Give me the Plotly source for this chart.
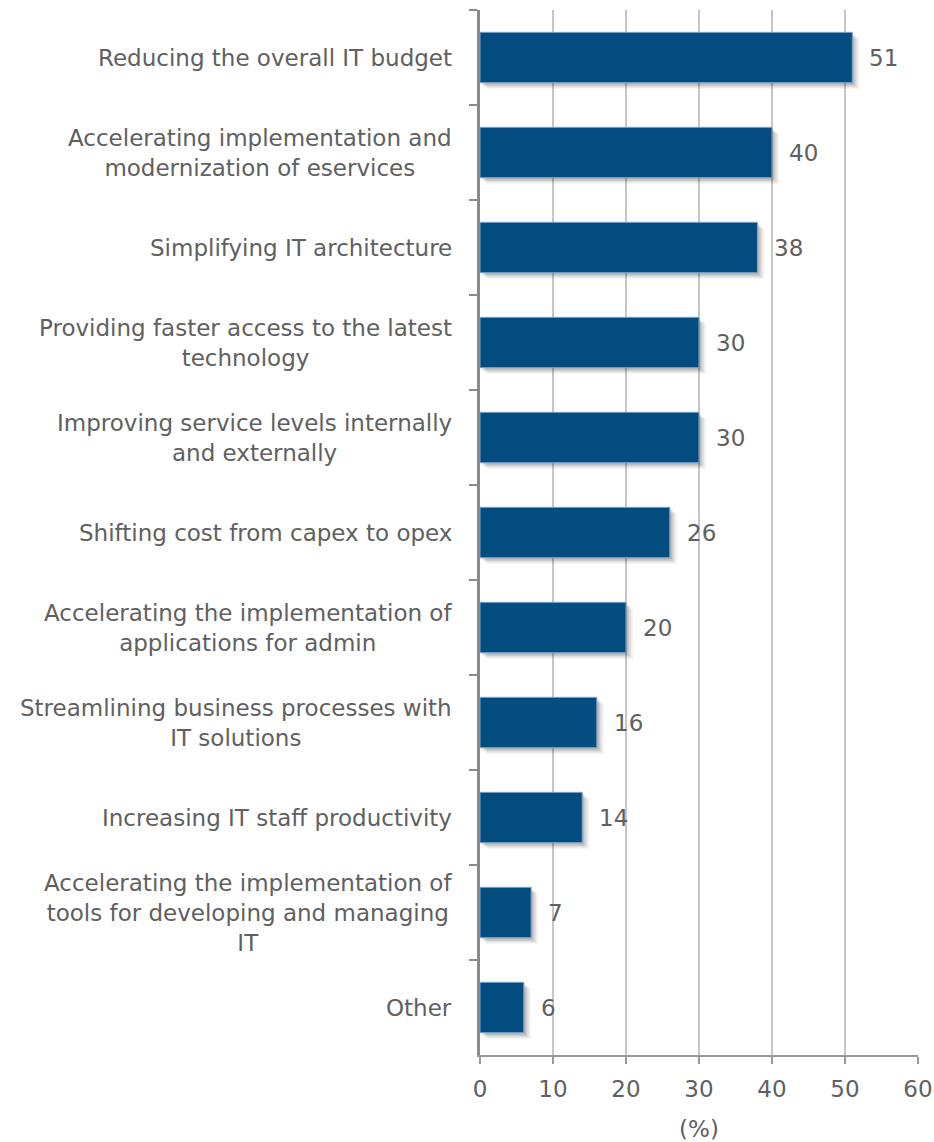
import plotly.graph_objects as go

# Survey answers, top to bottom
categories = [
    "Reducing the overall IT budget",
    "Accelerating implementation and<br>modernization of eservices",
    "Simplifying IT architecture",
    "Providing faster access to the latest<br>technology",
    "Improving service levels internally<br>and externally",
    "Shifting cost from capex to opex",
    "Accelerating the implementation of<br>applications for admin",
    "Streamlining business processes with<br>IT solutions",
    "Increasing IT staff productivity",
    "Accelerating the implementation of<br>tools for developing and managing<br>IT",
    "Other",
]
values = [51, 40, 38, 30, 30, 26, 20, 16, 14, 7, 6]
x_ticks = [0, 10, 20, 30, 40, 50, 60]

BAR = "#024c80"
TEXT = "#606060"
FONT = "DejaVu Sans"
FS = 23
BAR_W = 0.53

fig = go.Figure()

# soft drop shadow behind each bar (several translucent layers)
for dx, dy, alpha in [(0.95, 0.065, 0.05), (0.7, 0.05, 0.07), (0.45, 0.035, 0.09), (0.25, 0.02, 0.10)]:
    fig.add_trace(go.Bar(
        y=categories, x=values, base=dx, orientation="h",
        width=BAR_W, offset=-BAR_W / 2 + dy,
        marker=dict(color=f"rgba(0,0,0,{alpha})", line=dict(width=0)),
        hoverinfo="skip", showlegend=False,
    ))

fig.add_trace(go.Bar(
    y=categories, x=values, orientation="h",
    width=BAR_W, offset=-BAR_W / 2,
    marker=dict(color=BAR, line=dict(color="#7aa4cc", width=1)),
    showlegend=False,
))

annotations = []
for cat, val in zip(categories, values):
    annotations.append(dict(
        x=0, xref="paper", y=cat, yref="y", text=cat,
        xanchor="right", yanchor="middle", align="center", xshift=-26,
        showarrow=False, font=dict(family=FONT, size=FS, color=TEXT),
    ))
    annotations.append(dict(
        x=val, xref="x", y=cat, yref="y", text=str(val),
        xanchor="left", yanchor="middle", xshift=15,
        showarrow=False, font=dict(family=FONT, size=FS, color=TEXT),
    ))

fig.update_layout(
    width=934, height=1142,
    margin=dict(l=480, r=16, t=10, b=87),
    paper_bgcolor="white", plot_bgcolor="white",
    barmode="overlay",
    annotations=annotations,
    font=dict(family=FONT, size=FS, color=TEXT),
    xaxis=dict(
        range=[0, 60], tickvals=x_ticks, showgrid=True,
        gridcolor="#c6c6c6", gridwidth=2,
        showline=True, linecolor="#999999", linewidth=2,
        ticks="outside", ticklen=7, tickcolor="#999999", tickwidth=2,
        ticklabelstandoff=5,
        tickfont=dict(family=FONT, size=FS, color=TEXT),
        title=dict(text="(%)", font=dict(family=FONT, size=FS, color=TEXT), standoff=20),
        zeroline=False, fixedrange=True, automargin=False,
    ),
    yaxis=dict(
        autorange="reversed", showticklabels=False,
        showline=True, linecolor="#8a8a8a", linewidth=3,
        ticks="outside", tickson="boundaries", ticklen=8,
        tickcolor="#8a8a8a", tickwidth=2, showgrid=False,
        fixedrange=True, automargin=False,
    ),
)

fig.write_html("out.html")
